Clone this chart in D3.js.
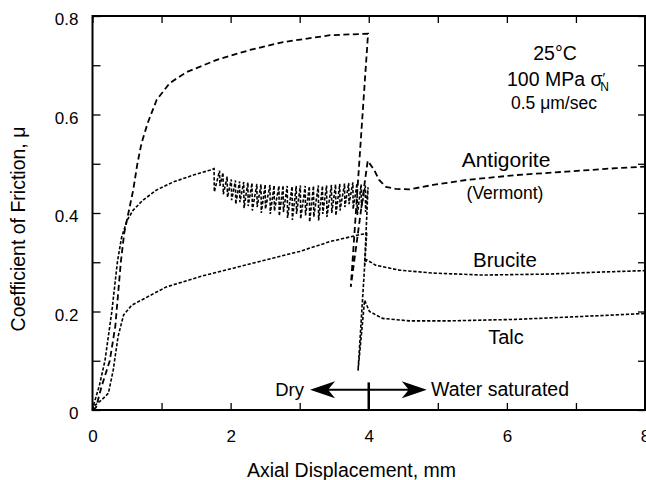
<!DOCTYPE html>
<html>
<head>
<meta charset="utf-8">
<script src="https://cdn.jsdelivr.net/npm/d3@7"></script>
<style>
  body { margin: 0; background: #fff; }
  text { font-family: "Liberation Sans", Arial, sans-serif; fill: #000; }
</style>
</head>
<body>
<div id="chart"></div>
<script>

// ---- data (axial displacement mm, friction coefficient) ----
var antigorite = [
  [0, 0], [0.05, 0.005], [0.13, 0.047], [0.25, 0.10], [0.33, 0.17], [0.41, 0.30],
  [0.46, 0.36], [0.52, 0.40], [0.59, 0.447], [0.65, 0.50], [0.71, 0.542], [0.80, 0.583],
  [0.93, 0.63], [1.12, 0.664], [1.36, 0.686], [1.80, 0.711], [2.28, 0.731], [2.76, 0.747],
  [3.44, 0.761], [3.99, 0.764],
  [3.74, 0.25], [3.93, 0.45], [3.985, 0.506], [4.08, 0.487], [4.15, 0.467], [4.25, 0.453],
  [4.39, 0.449], [4.59, 0.448], [4.93, 0.457], [5.41, 0.467], [6.13, 0.477], [6.86, 0.484],
  [7.58, 0.491], [8.0, 0.494]
];

var bruciteRise = [
  [0, 0], [0.01, 0.007], [0.10, 0.05], [0.18, 0.10], [0.28, 0.20], [0.36, 0.30],
  [0.42, 0.35], [0.50, 0.385], [0.59, 0.406], [0.73, 0.426], [0.93, 0.447], [1.17, 0.463],
  [1.46, 0.477], [1.70, 0.487]
];

// stick-slip: position of each slip, friction just before and just after it
var slipX = [1.76, 1.84, 1.89, 1.95, 2.01, 2.07, 2.13, 2.19, 2.25, 2.31, 2.38, 2.44,
  2.50, 2.57, 2.63, 2.70, 2.76, 2.82, 2.89, 2.95, 3.01, 3.08, 3.14, 3.20, 3.27, 3.33,
  3.39, 3.46, 3.52, 3.58, 3.65, 3.71, 3.77, 3.83, 3.89, 3.95];
var slipPeak = [0.490, 0.486, 0.482, 0.474, 0.468, 0.466, 0.464, 0.463, 0.462, 0.461,
  0.459, 0.458, 0.458, 0.457, 0.456, 0.455, 0.456, 0.455, 0.454, 0.455, 0.456, 0.455,
  0.454, 0.455, 0.456, 0.455, 0.456, 0.457, 0.458, 0.459, 0.460, 0.461, 0.462, 0.460,
  0.458, 0.456];
var slipDrop = [0.443, 0.455, 0.438, 0.432, 0.426, 0.418, 0.422, 0.410, 0.414, 0.405,
  0.412, 0.400, 0.408, 0.398, 0.404, 0.394, 0.402, 0.390, 0.386, 0.398, 0.388, 0.395,
  0.382, 0.392, 0.385, 0.398, 0.392, 0.400, 0.395, 0.405, 0.412, 0.418, 0.408, 0.396,
  0.410, 0.402];

var bruciteWet = [
  [3.99, 0.452], [3.94, 0.295], [3.97, 0.305], [4.10, 0.294], [4.44, 0.284], [4.93, 0.278],
  [5.65, 0.274], [6.61, 0.276], [7.34, 0.280], [8.0, 0.283]
];

var talc = [
  [0, 0], [0.01, 0.007], [0.13, 0.02], [0.23, 0.034], [0.30, 0.081], [0.37, 0.149],
  [0.45, 0.193], [0.57, 0.213], [0.76, 0.227], [1.07, 0.25], [1.56, 0.271], [2.04, 0.288],
  [2.52, 0.305], [3.0, 0.322], [3.44, 0.342], [3.9, 0.357], [3.97, 0.358],
  [3.845, 0.08], [3.94, 0.223], [4.01, 0.2], [4.2, 0.186], [4.59, 0.181], [5.17, 0.181],
  [6.13, 0.184], [7.1, 0.19], [8.0, 0.196]
];

var xTicks = [0, 1, 2, 3, 4, 5, 6, 7, 8];
var xLabels = [0, 2, 4, 6, 8];
var yTicks = [0, 0.1, 0.2, 0.3, 0.4, 0.5, 0.6, 0.7, 0.8];
var yLabels = [0, 0.2, 0.4, 0.6, 0.8];

// build the brucite series from its pieces
var brucite = bruciteRise.slice();
for (var i = 0; i < slipX.length; i++) {
  brucite.push([slipX[i], slipPeak[i]]);
  brucite.push([slipX[i] + 0.004, slipDrop[i]]);
}
brucite = brucite.concat(bruciteWet);

var chart_width = 646;
var chart_height = 480;

var svg = d3.select('#chart')
  .append('svg')
  .attr('width', chart_width)
  .attr('height', chart_height);

var x_scale = d3.scaleLinear().domain([0, 8]).range([92.5, 645]);
var y_scale = d3.scaleLinear().domain([0, 0.8]).range([410, 16]);

// axes, ticks pointing inward
var bottom = svg.append('g')
  .attr('transform', 'translate(0,' + y_scale(0) + ')')
  .call(d3.axisBottom(x_scale).tickValues(xTicks).tickSize(-7).tickPadding(20)
    .tickFormat(function(d) { return xLabels.indexOf(d) >= 0 ? d : ''; }));

var top_axis = svg.append('g')
  .attr('transform', 'translate(0,' + y_scale(0.8) + ')')
  .call(d3.axisTop(x_scale).tickValues(xTicks).tickSize(-7).tickFormat(''));

var left = svg.append('g')
  .attr('transform', 'translate(' + x_scale(0) + ',0)')
  .call(d3.axisLeft(y_scale).tickValues(yTicks).tickSize(-8).tickPadding(14)
    .tickFormat(function(d) {
      return yLabels.some(function(v) { return Math.abs(v - d) < 1e-9; }) ? (d === 0 ? '0' : d3.format('.1f')(d)) : '';
    }));

var right = svg.append('g')
  .attr('transform', 'translate(' + x_scale(8) + ',0)')
  .call(d3.axisRight(y_scale).tickValues(yTicks).tickSize(-7).tickFormat(''));

svg.selectAll('.domain').remove();
svg.selectAll('.tick line').attr('stroke', '#000').attr('stroke-width', 1.3);
svg.selectAll('.tick text')
  .attr('font-size', 17)
  .attr('font-family', '"Liberation Sans", Arial, sans-serif')
  .attr('fill', '#000');
left.selectAll('.tick text').attr('dy', '0.5em');

svg.append('rect')
  .attr('x', x_scale(0))
  .attr('y', y_scale(0.8))
  .attr('width', x_scale(8) - x_scale(0))
  .attr('height', y_scale(0) - y_scale(0.8))
  .attr('fill', 'none')
  .attr('stroke', '#000')
  .attr('stroke-width', 2);

// curves
var line = d3.line()
  .x(function(d) { return x_scale(d[0]); })
  .y(function(d) { return y_scale(d[1]); });

svg.append('path').datum(antigorite)
  .attr('d', line)
  .attr('fill', 'none').attr('stroke', '#000')
  .attr('stroke-width', 1.8).attr('stroke-dasharray', '6,3.5');

svg.append('path').datum(brucite)
  .attr('d', line)
  .attr('fill', 'none').attr('stroke', '#000')
  .attr('stroke-width', 1.6).attr('stroke-dasharray', '3.3,1.8');

svg.append('path').datum(talc)
  .attr('d', line)
  .attr('fill', 'none').attr('stroke', '#000')
  .attr('stroke-width', 1.6).attr('stroke-dasharray', '3.3,1.8');

// Dry / water saturated arrow
var ay = y_scale(0.041);
var xl = x_scale(3.15), xr = x_scale(4.84);
svg.append('line')
  .attr('x1', xl + 10).attr('x2', xr - 10)
  .attr('y1', ay).attr('y2', ay)
  .attr('stroke', '#000').attr('stroke-width', 2);
svg.append('path')
  .attr('d', 'M' + xl + ',' + ay + 'L' + (xl + 25) + ',' + (ay - 8.5) + 'L' + (xl + 18) + ',' + ay +
    'L' + (xl + 25) + ',' + (ay + 8.5) + 'Z')
  .attr('fill', '#000');
svg.append('path')
  .attr('d', 'M' + xr + ',' + ay + 'L' + (xr - 25) + ',' + (ay - 8.5) + 'L' + (xr - 18) + ',' + ay +
    'L' + (xr - 25) + ',' + (ay + 8.5) + 'Z')
  .attr('fill', '#000');
svg.append('line')
  .attr('x1', x_scale(4)).attr('x2', x_scale(4))
  .attr('y1', y_scale(0.056)).attr('y2', y_scale(0))
  .attr('stroke', '#000').attr('stroke-width', 2.5);

// labels
function label(txt, x, y, size, anchor) {
  return svg.append('text')
    .attr('x', x).attr('y', y)
    .attr('font-size', size)
    .attr('text-anchor', anchor || 'start')
    .text(txt);
}

label('Dry', 304, 396, 18.5, 'end');
label('Water saturated', 431, 396, 19.5);
label('Antigorite', 506, 167, 21, 'middle');
label('(Vermont)', 505, 199, 17.5, 'middle');
label('Brucite', 505, 267, 20.5, 'middle');
label('Talc', 506, 344, 20, 'middle');
label('25°C', 555, 60, 19.5, 'middle');
label('0.5 μm/sec', 511, 109, 17.5);

var sig = label('100 MPa σ', 507, 86, 19.5);
sig.append('tspan').attr('dx', 0).attr('dy', -3).attr('font-size', 14).text('′');
sig.append('tspan').attr('dx', -5).attr('dy', 8).attr('font-size', 12).text('N');

svg.append('text')
  .attr('x', 351.5).attr('y', 477)
  .attr('font-size', 19.5)
  .attr('text-anchor', 'middle')
  .text('Axial Displacement, mm');

svg.append('text')
  .attr('transform', 'translate(25,229) rotate(-90)')
  .attr('font-size', 19.5)
  .attr('text-anchor', 'middle')
  .text('Coefficient of Friction, μ');

</script>
</body>
</html>
